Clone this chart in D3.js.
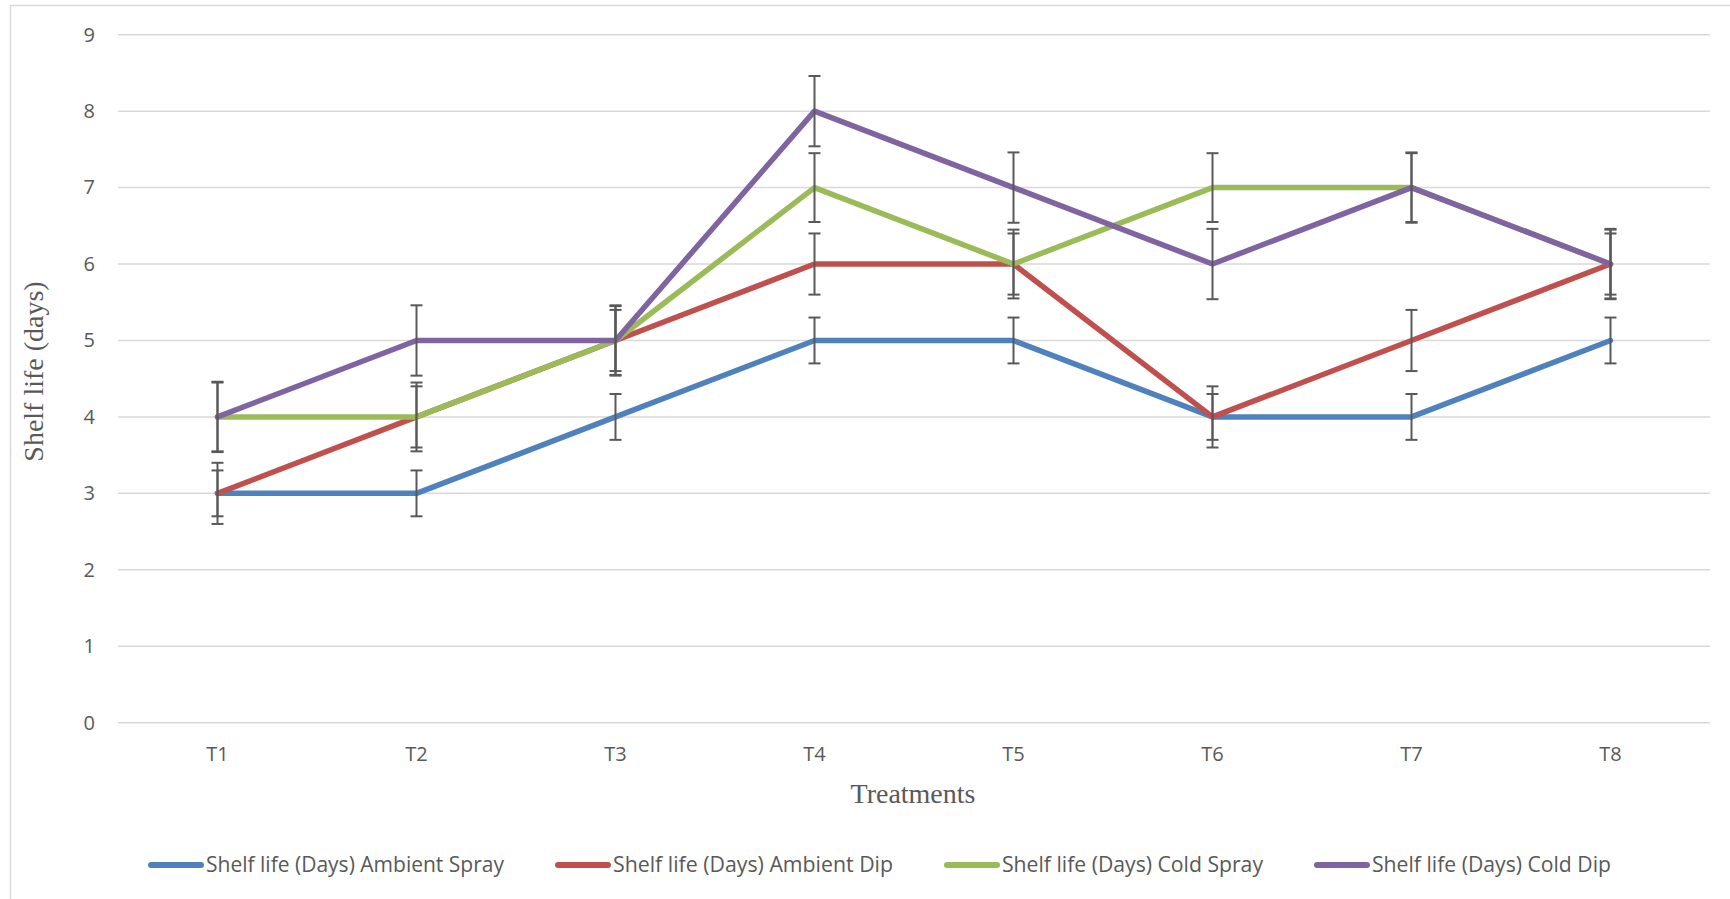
<!DOCTYPE html>
<html>
<head>
<meta charset="utf-8">
<script src="https://cdn.jsdelivr.net/npm/d3@7"></script>
<style>
html,body{margin:0;padding:0;background:#fff;}
svg{display:block;}
</style>
</head>
<body>
<svg id="chart" width="1730" height="899"></svg>
<script>
const categories = ["T1","T2","T3","T4","T5","T6","T7","T8"];
const seriesNames = [
  "Shelf life (Days) Ambient Spray",
  "Shelf life (Days) Ambient Dip",
  "Shelf life (Days) Cold Spray",
  "Shelf life (Days) Cold Dip"
];
const ambientSpray = [3,3,4,5,5,4,4,5];
const ambientDip   = [3,4,5,6,6,4,5,6];
const coldSpray    = [4,4,5,7,6,7,7,6];
const coldDip      = [4,5,5,8,7,6,7,6];
const errAmbientSpray = [0.3,0.3,0.3,0.3,0.3,0.3,0.3,0.3];
const errAmbientDip   = [0.4,0.4,0.4,0.4,0.4,0.4,0.4,0.4];
const errColdSpray    = [0.45,0.45,0.45,0.45,0.45,0.45,0.45,0.45];
const errColdDip      = [0.46,0.46,0.46,0.46,0.46,0.46,0.46,0.46];
const yTicks = [0,1,2,3,4,5,6,7,8,9];
const colors = ["#4F81BD","#C0504D","#9BBB59","#8064A2"];

const series = [
  {name: seriesNames[0], values: ambientSpray, err: errAmbientSpray, color: colors[0]},
  {name: seriesNames[1], values: ambientDip,   err: errAmbientDip,   color: colors[1]},
  {name: seriesNames[2], values: coldSpray,    err: errColdSpray,    color: colors[2]},
  {name: seriesNames[3], values: coldDip,      err: errColdDip,      color: colors[3]}
];

const svg = d3.select("#chart");
const plot = {left:118, right:1710, top:34.7, bottom:722.7};

// chart border
svg.append("rect").attr("x",10.5).attr("y",5.5).attr("width",1740).attr("height",910)
  .attr("fill","none").attr("stroke","#d9d9d9").attr("stroke-width",1.5);

const x = d3.scaleBand().domain(categories).range([plot.left, plot.right]);
const y = d3.scaleLinear().domain([0,9]).range([plot.bottom, plot.top]);
const cx = c => x(c) + x.bandwidth()/2;

// gridlines
svg.append("g").selectAll("line").data(yTicks).join("line")
  .attr("x1",plot.left).attr("x2",plot.right)
  .attr("y1",d=>y(d)).attr("y2",d=>y(d))
  .attr("stroke","#d9d9d9").attr("stroke-width",1.5);

// y axis labels
const yAxis = d3.axisLeft(y).tickValues(yTicks).tickSize(0).tickPadding(0);
const gy = svg.append("g").attr("transform",`translate(95,0)`).call(yAxis);
gy.select(".domain").remove();
gy.selectAll("text").attr("font-family","'Open Sans', sans-serif").attr("font-size",20)
  .attr("fill","#595959");

// x axis labels
const xAxis = d3.axisBottom(x).tickSize(0).tickPadding(0);
const gx = svg.append("g").attr("transform",`translate(0,747)`).call(xAxis);
gx.select(".domain").remove();
gx.selectAll("text").attr("font-family","'Open Sans', sans-serif").attr("font-size",20)
  .attr("fill","#595959");

// lines
const line = d3.line().x((d,i)=>cx(categories[i])).y(d=>y(d));
svg.append("g").selectAll("path").data(series).join("path")
  .attr("d",d=>line(d.values))
  .attr("fill","none").attr("stroke",d=>d.color).attr("stroke-width",5.5)
  .attr("stroke-linejoin","round").attr("stroke-linecap","round");

// error bars
const eb = svg.append("g");
series.forEach(s=>{
  s.values.forEach((v,i)=>{
    const px = cx(categories[i]);
    const lo = y(v - s.err[i]), hi = y(v + s.err[i]);
    eb.append("line").attr("x1",px).attr("x2",px).attr("y1",lo).attr("y2",hi)
      .attr("stroke","#595959").attr("stroke-width",2);
    [lo,hi].forEach(yy=>{
      eb.append("line").attr("x1",px-6).attr("x2",px+6).attr("y1",yy).attr("y2",yy)
        .attr("stroke","#595959").attr("stroke-width",2);
    });
  });
});

// axis titles
svg.append("text").attr("x",913).attr("y",803).attr("text-anchor","middle")
  .attr("font-family","'Liberation Serif','Times New Roman',serif").attr("font-size",28)
  .attr("fill","#595959").text("Treatments");
svg.append("text").attr("transform","translate(43,371.5) rotate(-90)").attr("text-anchor","middle")
  .attr("font-family","'Liberation Serif','Times New Roman',serif").attr("font-size",28)
  .attr("fill","#595959").text("Shelf life (days)");

// legend
const legendWidths = [298,280,261,239];
const leg = svg.append("g");
let lx = 148;
const ly = 865;
series.forEach((s,i)=>{
  leg.append("line").attr("x1",lx+3).attr("x2",lx+53).attr("y1",ly).attr("y2",ly)
    .attr("stroke",s.color).attr("stroke-width",6).attr("stroke-linecap","round");
  leg.append("text").attr("x",lx+58).attr("y",ly+7)
    .attr("font-family","'Open Sans', sans-serif").attr("font-size",21)
    .attr("fill","#595959")
    .attr("textLength",legendWidths[i]).attr("lengthAdjust","spacingAndGlyphs")
    .text(s.name);
  lx += 58 + legendWidths[i] + 51;
});
</script>
</body>
</html>
